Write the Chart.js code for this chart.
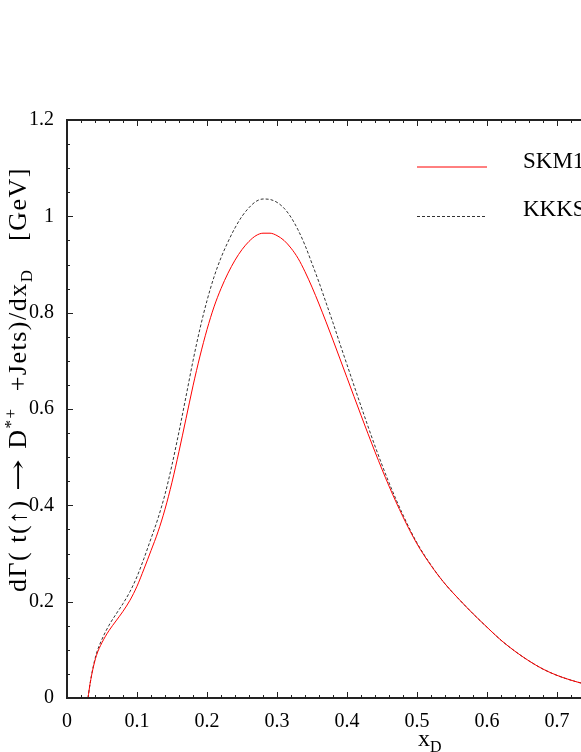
<!DOCTYPE html>
<html>
<head>
<meta charset="utf-8">
<script src="https://cdn.jsdelivr.net/npm/chart.js@4.4.0/dist/chart.umd.min.js"></script>
<style>
  body { margin: 0; overflow: hidden; background: #fff; }
  #wrap { width: 800px; height: 752px; }
</style>
</head>
<body>
<div id="wrap"><canvas id="chart" width="800" height="752"></canvas></div>
<script>
// x_D values and the two curves
const xVals = [0.03, 0.033, 0.037, 0.042, 0.05, 0.06, 0.07, 0.08, 0.09, 0.1, 0.11, 0.12, 0.13, 0.14, 0.15, 0.16, 0.17, 0.18, 0.19, 0.2,
  0.21, 0.22, 0.23, 0.24, 0.25, 0.26, 0.27, 0.28, 0.29, 0.3, 0.31, 0.32, 0.33, 0.34, 0.35, 0.36, 0.37, 0.38, 0.39, 0.4, 0.42, 0.44, 0.46, 0.48, 0.5,
  0.52, 0.54, 0.56, 0.58, 0.6, 0.62, 0.64, 0.66, 0.68, 0.7, 0.72, 0.74, 0.76, 0.78, 0.8, 0.85, 0.9, 0.95, 1.0];
const skmVals = [0, 0.03, 0.06, 0.088, 0.115, 0.14, 0.16, 0.18, 0.203, 0.232, 0.268, 0.306, 0.345, 0.392, 0.448, 0.512, 0.58, 0.648, 0.71, 0.765,
  0.812, 0.85, 0.882, 0.909, 0.931, 0.948, 0.96, 0.965, 0.965, 0.96, 0.95, 0.934, 0.913, 0.885, 0.853, 0.818, 0.781, 0.743, 0.704, 0.665, 0.587, 0.511, 0.44, 0.376, 0.32,
  0.275, 0.237, 0.205, 0.175, 0.147, 0.12, 0.097, 0.077, 0.06, 0.047, 0.037, 0.029, 0.023, 0.018, 0.014, 0.007, 0.003, 0.001, 0];
const kkksVals = [0, 0.03, 0.062, 0.092, 0.122, 0.151, 0.174, 0.196, 0.221, 0.252, 0.29, 0.331, 0.373, 0.423, 0.484, 0.553, 0.626, 0.7, 0.767, 0.825,
  0.874, 0.914, 0.947, 0.976, 1.0, 1.018, 1.031, 1.036, 1.035, 1.029, 1.017, 0.998, 0.972, 0.94, 0.902, 0.863, 0.821, 0.779, 0.735, 0.692, 0.606, 0.523, 0.447, 0.38, 0.322,
  0.276, 0.237, 0.205, 0.175, 0.147, 0.12, 0.097, 0.077, 0.06, 0.047, 0.037, 0.029, 0.023, 0.018, 0.014, 0.007, 0.003, 0.001, 0];
const zeroX = [0, 1];
const zeroY = [0, 0];
const labels = ['SKM17', 'KKKS08'];

const serif = "'Liberation Serif', 'Times New Roman', serif";
Chart.defaults.font.family = serif;
Chart.defaults.font.size = 20;
Chart.defaults.color = '#000';

const pts = (xs, ys) => xs.map((x, i) => ({ x: x, y: ys[i] }));
const fmt = v => String(Math.round(v * 10) / 10);

// frame + inward ticks on all sides
const frame = {
  id: 'frame',
  afterDatasetsDraw(chart) {
    const { ctx, chartArea: a, scales: { x, y } } = chart;
    ctx.save();
    ctx.strokeStyle = '#222';
    ctx.lineWidth = 1;
    ctx.beginPath();
    for (let i = 0; i <= 50; i++) {
      const px = Math.round(x.getPixelForValue(i * 0.02)) + 0.5;
      const len = i % 5 === 0 ? 6 : 3;
      ctx.moveTo(px, a.bottom); ctx.lineTo(px, a.bottom - len);
      ctx.moveTo(px, a.top); ctx.lineTo(px, a.top + len);
    }
    for (let i = 0; i <= 24; i++) {
      const py = Math.round(y.getPixelForValue(i * 0.05)) + 0.5;
      const len = i % 4 === 0 ? 6 : 3;
      ctx.moveTo(a.left, py); ctx.lineTo(a.left + len, py);
      ctx.moveTo(a.right, py); ctx.lineTo(a.right - len, py);
    }
    ctx.stroke();
    ctx.lineWidth = 2;
    ctx.strokeRect(a.left, a.top, a.right - a.left, a.bottom - a.top);
    ctx.restore();
  }
};

// draws text pieces in a row: [text, size, shift, xscale, family]
const drawRow = (ctx, parts, x, y) => {
  let cx = x;
  parts.forEach(p => {
    const sx = p[3] || 1;
    ctx.font = p[1] + 'px ' + (p[4] || serif);
    ctx.save();
    ctx.translate(cx, y + p[2]);
    ctx.scale(sx, 1);
    ctx.fillText(p[0], 0, 0);
    ctx.restore();
    cx += ctx.measureText(p[0]).width * sx;
  });
  return cx;
};

const texts = {
  id: 'texts',
  afterDraw(chart) {
    const { ctx } = chart;
    ctx.save();
    ctx.fillStyle = '#000';
    ctx.textBaseline = 'alphabetic';
    ctx.textAlign = 'left';

    // x axis title
    drawRow(ctx, [['x', 24, 0], ['D', 16, 6]], 418, 746);

    // y axis title, rotated
    ctx.letterSpacing = '1.5px';
    const yt = [['d\u0393( t(\u2191) ', 26, 0], ['\u2192', 24, 0, 1.6, "'DejaVu Serif'"], [' D', 26, 0], ['*+', 17, -10],
      ['  +Jets)/dx', 26, 0], ['D', 17, 6], ['\u2003', 26, 0], ['[GeV]', 26, 0]];
    ctx.translate(26, 592);
    ctx.rotate(-Math.PI / 2);
    drawRow(ctx, yt, 0, 0);
    ctx.restore();

    // legend
    ctx.save();
    ctx.lineWidth = 1;
    ctx.strokeStyle = 'red';
    ctx.beginPath(); ctx.moveTo(417, 167); ctx.lineTo(487, 167); ctx.stroke();
    ctx.strokeStyle = '#333';
    ctx.setLineDash([3, 2]);
    ctx.beginPath(); ctx.moveTo(417, 216.5); ctx.lineTo(487, 216.5); ctx.stroke();
    ctx.setLineDash([]);
    ctx.fillStyle = '#000';
    ctx.font = '23px ' + serif;
    ctx.fillText(labels[0], 523, 168);
    ctx.fillText(labels[1], 523, 216);
    ctx.restore();
  }
};

new Chart(document.getElementById('chart'), {
  type: 'line',
  data: {
    datasets: [
      { label: 'zero1', data: pts(zeroX, zeroY), borderColor: 'red', borderWidth: 1, pointRadius: 0 },
      { label: 'zero2', data: pts(zeroX, zeroY), borderColor: '#333', borderWidth: 1, borderDash: [3, 2], pointRadius: 0 },
      { label: labels[0], data: pts(xVals, skmVals), borderColor: 'red', borderWidth: 1, pointRadius: 0, cubicInterpolationMode: 'monotone' },
      { label: labels[1], data: pts(xVals, kkksVals), borderColor: '#333', borderWidth: 1, borderDash: [3, 2], pointRadius: 0, cubicInterpolationMode: 'monotone' }
    ]
  },
  options: {
    responsive: false,
    animation: false,
    layout: { padding: { top: 120, right: 33, left: 0, bottom: 0 } },
    plugins: { legend: { display: false }, tooltip: { enabled: false } },
    scales: {
      x: {
        type: 'linear', min: 0, max: 1,
        grid: { display: false }, border: { display: false },
        ticks: { stepSize: 0.1, padding: 4, maxRotation: 0, callback: fmt },
        afterFit: s => { s.height = 54; }
      },
      y: {
        min: 0, max: 1.2,
        grid: { display: false }, border: { display: false },
        ticks: { stepSize: 0.2, padding: 5, callback: fmt },
        afterFit: s => { s.width = 67; }
      }
    }
  },
  plugins: [frame, texts]
});
</script>
</body>
</html>
